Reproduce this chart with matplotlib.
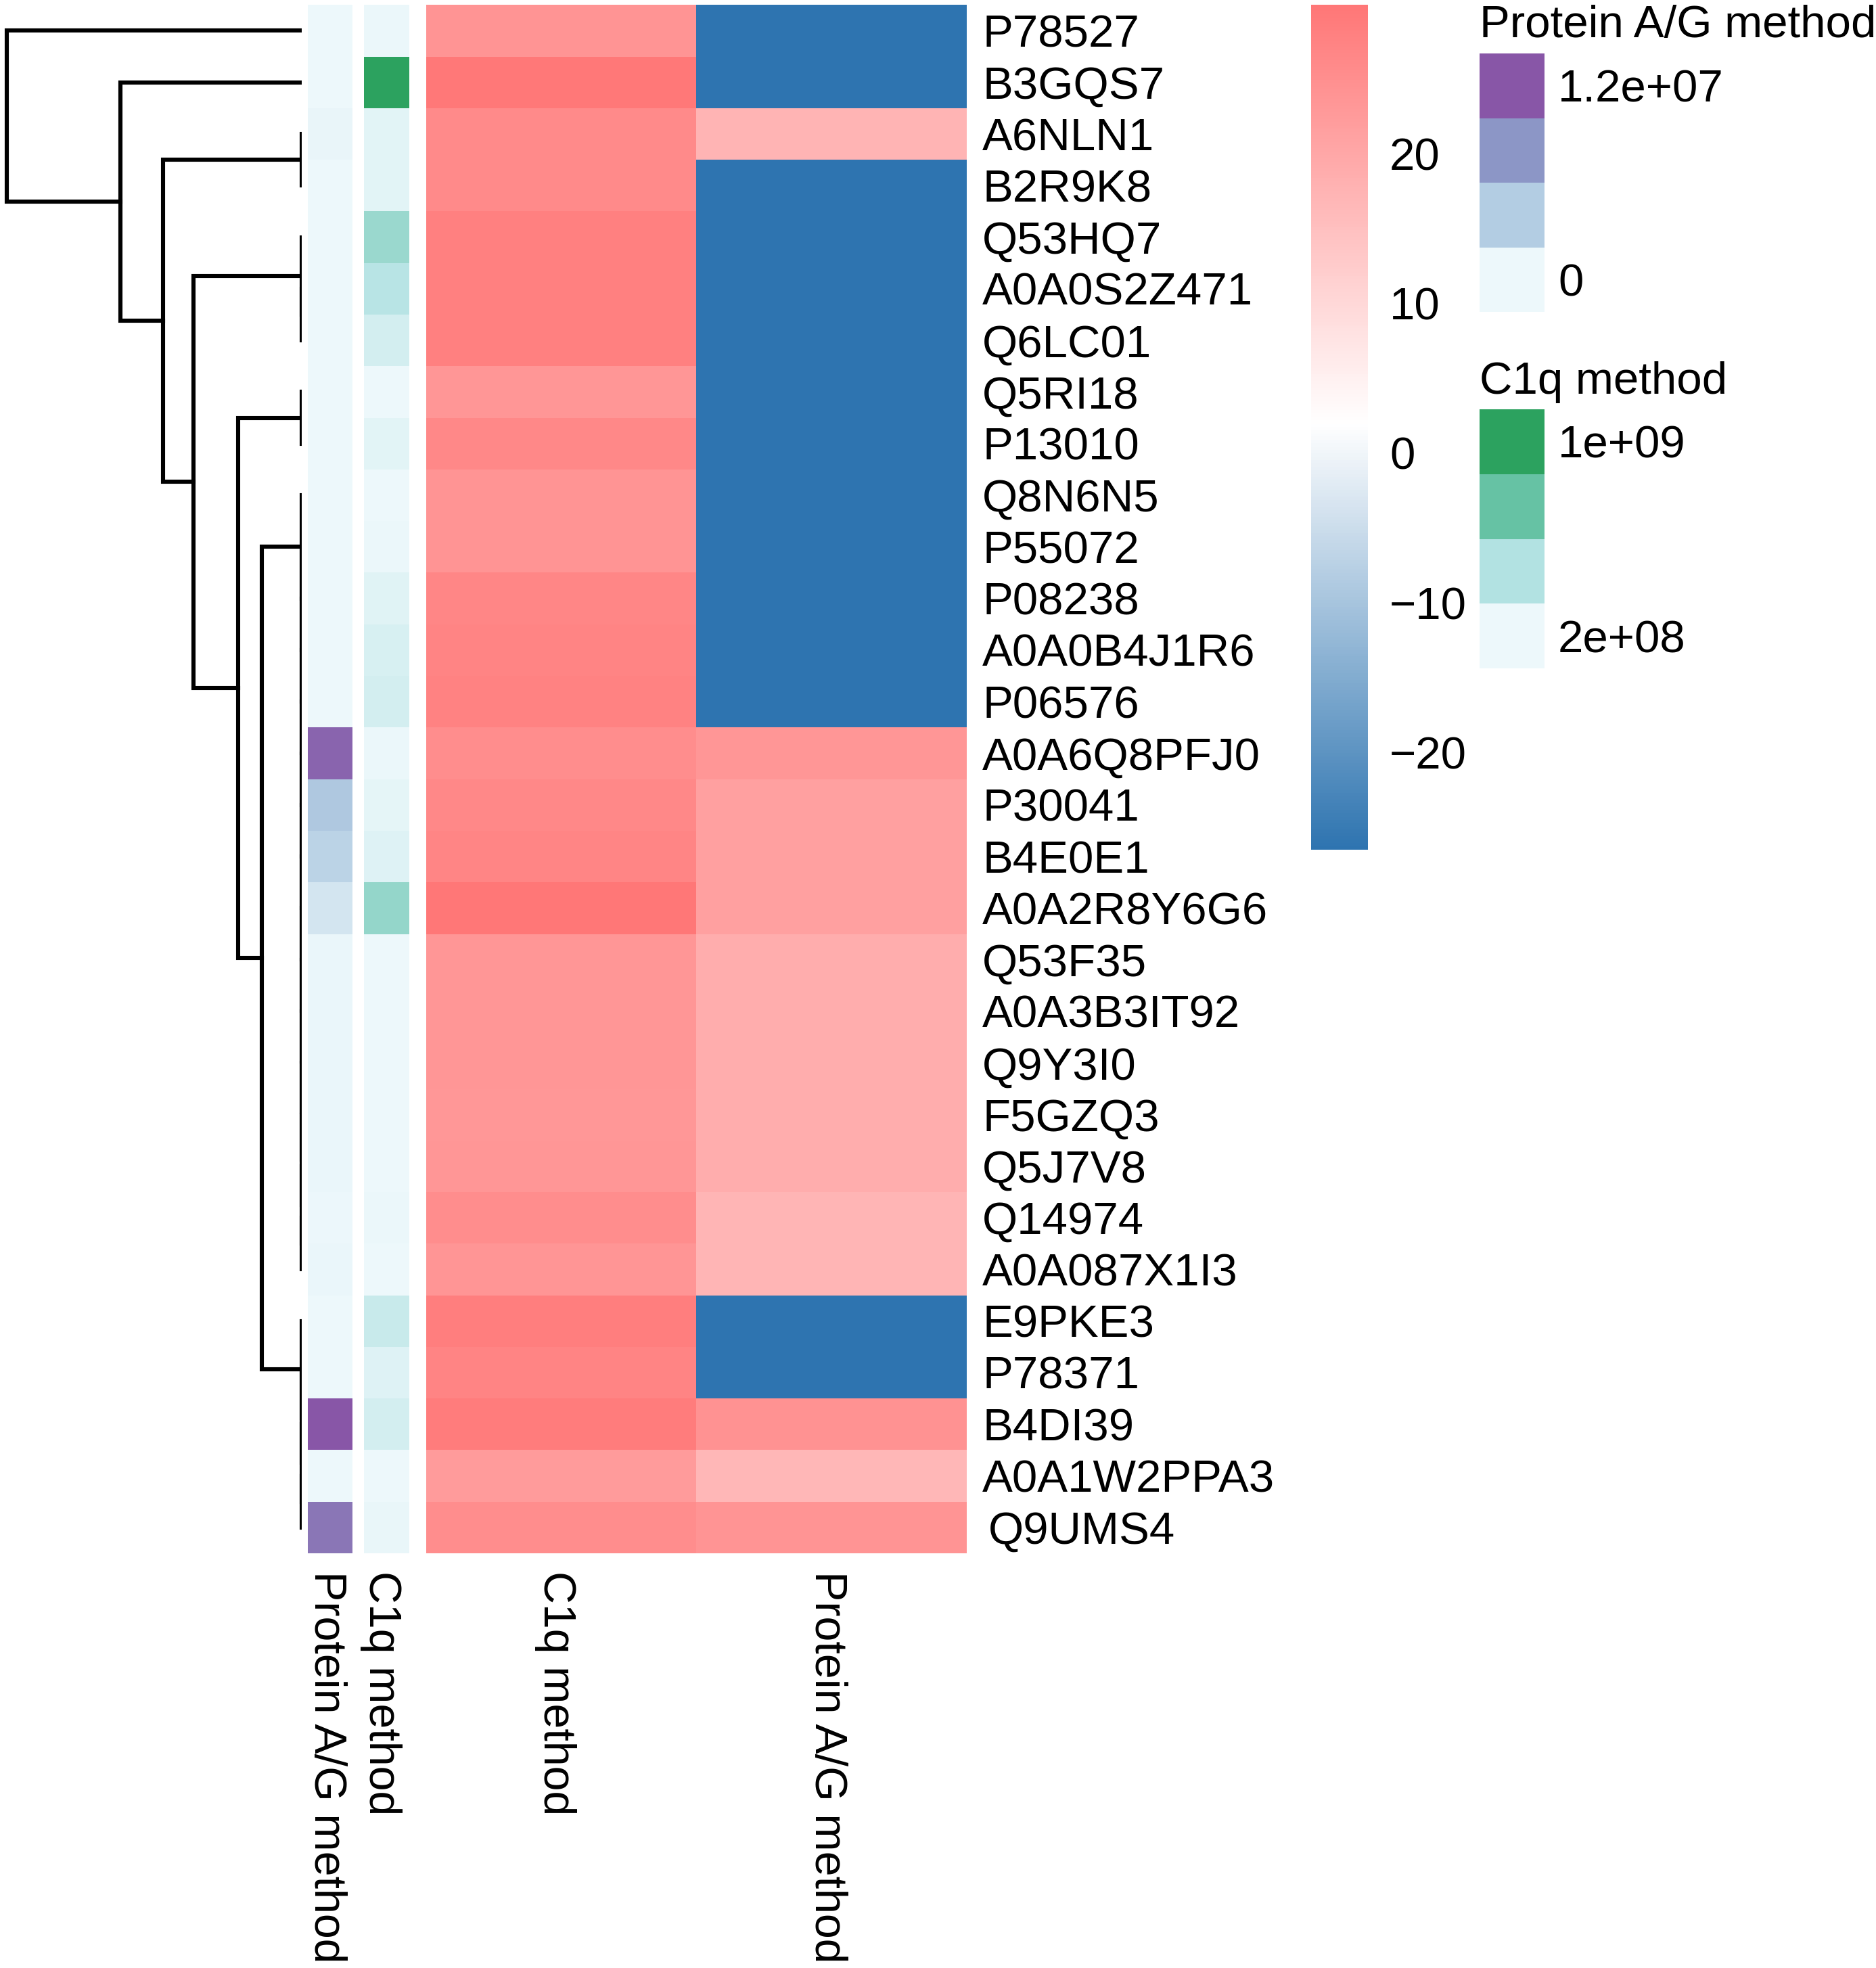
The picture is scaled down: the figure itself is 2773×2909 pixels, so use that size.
import numpy as np
import matplotlib
matplotlib.use('Agg')
import matplotlib.pyplot as plt
from matplotlib.colors import LinearSegmentedColormap, ListedColormap, Normalize, TwoSlopeNorm
from matplotlib.cm import ScalarMappable

plt.rcParams['font.family'] = ['Liberation Sans', 'DejaVu Sans']

W, H = 2773, 2909
FS = 48.4

proteins = ['P78527', 'B3GQS7', 'A6NLN1', 'B2R9K8', 'Q53HQ7', 'A0A0S2Z471', 'Q6LC01', 'Q5RI18',
            'P13010', 'Q8N6N5', 'P55072', 'P08238', 'A0A0B4J1R6', 'P06576', 'A0A6Q8PFJ0', 'P30041',
            'B4E0E1', 'A0A2R8Y6G6', 'Q53F35', 'A0A3B3IT92', 'Q9Y3I0', 'F5GZQ3', 'Q5J7V8', 'Q14974',
            'A0A087X1I3', 'E9PKE3', 'P78371', 'B4DI39', 'A0A1W2PPA3', 'Q9UMS4']

# log fold values per method (main heatmap)
c1q_method = [24, 29.7, 26, 26, 28.2, 28.2, 28.2, 23.5, 26.3, 24, 24, 26.8, 27.2, 27.7, 25.4, 26.3, 27,
              29.9, 23.5, 23.5, 23.5, 23.3, 23.5, 25.4, 23.8, 28.4, 27.2, 28.8, 22.5, 25.4]
pag_method = [-26.5, -26.5, 17.5, -26.5, -26.5, -26.5, -26.5, -26.5, -26.5, -26.5, -26.5, -26.5, -26.5,
              -26.5, 23.5, 21.5, 21.5, 21.5, 18.8, 18.8, 18.8, 18.8, 18.8, 17.3, 17.3, -26.5, -26.5, 24.5, 16.8, 24]

# raw intensities for the annotation columns
pag_anno = [1e4, 1e4, 3e5, 1e4, 1e4, 1e4, 1e4, 1e4, 1e4, 1e4, 1e4, 1e4, 1e4, 1e4, 1.11e7, 4.4e6,
            3.5e6, 1.8e6, 2e5, 2e5, 2e5, 2e5, 2e5, 5e4, 2e5, 1e4, 1e4, 1.2e7, 1e4, 1e7]
c1q_anno = [2.1e8, 1e9, 2.5e8, 2.5e8, 5.5e8, 4.4e8, 3.2e8, 2e8, 2.5e8, 2e8, 2.1e8, 2.6e8, 3e8, 3.2e8,
            2.1e8, 2.4e8, 2.7e8, 5.7e8, 2e8, 2e8, 2e8, 2e8, 2e8, 2.1e8, 2e8, 3.7e8, 2.7e8, 3.2e8, 2e8, 2.2e8]

heat_columns = ['C1q method', 'Protein A/G method']
pag_colors = ['#EDF8FB', '#B3CDE3', '#8C96C6', '#8856A7']
c1q_colors = ['#EDF8FB', '#B2E2E2', '#66C2A4', '#2CA25F']
heat_colors = ['#2E74B0', '#FFFFFF', '#FF7777']
heat_ticks = [-20, -10, 0, 10, 20]


def ladder(first, last, height):
    # tight clusters chain one leaf at a time
    if first == last:
        return first
    return (height, first, ladder(first + 1, last, height))


tree = (436, 0,
        (268, 1,
         (205, ladder(2, 3, 0),
          (160, (0, 4, ladder(5, 6, 0)),
           (94, ladder(7, 8, 0),
            (59, ladder(9, 24, 0), ladder(25, 29, 0)))))))


def px_axes(x0, y0, x1, y1):
    return fig.add_axes([x0 / W, 1 - y1 / H, (x1 - x0) / W, (y1 - y0) / H])


def draw_tree(ax, node):
    if not isinstance(node, tuple):
        return 0, node + 0.5
    h, a, b = node
    ha, ya = draw_tree(ax, a)
    hb, yb = draw_tree(ax, b)
    ax.plot([ha, h, h, hb], [ya, ya, yb, yb], color='black', lw=4.4,
            solid_capstyle='projecting', solid_joinstyle='miter')
    return h, (ya + yb) / 2


def draw_column(ax, values, cmap, norm):
    arr = np.array(values, dtype=float).reshape(-1, 1) if np.ndim(values) == 1 else np.array(values).T
    ax.pcolormesh(arr, cmap=cmap, norm=norm, edgecolors='none')
    ax.set_ylim(len(proteins), 0)
    ax.set_yticks([])
    ax.set_xticks([])
    for s in ax.spines.values():
        s.set_visible(False)


fig = plt.figure(figsize=(W / 100, H / 100), dpi=100)

TOP, BOTTOM = 7.3, 2296

# dendrogram
ax_tree = px_axes(0, TOP, 446, BOTTOM)
draw_tree(ax_tree, tree)
ax_tree.set_xlim(446, 0)
ax_tree.set_ylim(len(proteins), 0)
ax_tree.axis('off')

# annotation columns
pag_cmap = LinearSegmentedColormap.from_list('pag', pag_colors)
c1q_cmap = LinearSegmentedColormap.from_list('c1q', c1q_colors)
ax_a = px_axes(454.5, TOP, 521, BOTTOM)
draw_column(ax_a, pag_anno, pag_cmap, Normalize(0, 1.2e7))
ax_b = px_axes(538, TOP, 605, BOTTOM)
draw_column(ax_b, c1q_anno, c1q_cmap, Normalize(2e8, 1e9))

# main heatmap
heat_cmap = LinearSegmentedColormap.from_list('heat', heat_colors)
heat_norm = TwoSlopeNorm(vmin=-26.5, vcenter=2, vmax=30)
ax_h = px_axes(629.5, TOP, 1429, BOTTOM)
draw_column(ax_h, [c1q_method, pag_method], heat_cmap, heat_norm)

for i, name in enumerate(proteins):
    nudge = 9 if name == 'Q9UMS4' else 0
    ax_h.annotate(name, xy=(1, i + 0.5), xycoords=('axes fraction', 'data'),
                  xytext=((23 + nudge) * 0.72, 0), textcoords='offset points',
                  ha='left', va='center_baseline', fontsize=FS)

# column labels under each block, rotated and hung from the bottom edge
for ax, label, pos, shift in [(ax_a, 'Protein A/G method', 0.5, -6), (ax_b, 'C1q method', 0.5, -9),
                              (ax_h, heat_columns[0], 0.5, -8), (ax_h, heat_columns[1], 1.5, -7)]:
    ax.annotate(label, xy=(pos, 0), xycoords=('data', 'axes fraction'),
                xytext=(shift * 0.72, -18.7), textcoords='offset points',
                rotation=270, fontsize=47.8, ha='center', va='top', annotation_clip=False)

# colour bar
ax_cb = px_axes(1938, 6.6, 2022, 1256)
cb = fig.colorbar(ScalarMappable(norm=heat_norm, cmap=heat_cmap), cax=ax_cb, ticks=heat_ticks)
ax_cb.set_yscale('linear')
cb.set_ticks(heat_ticks)
cb.ax.tick_params(length=0, pad=23, labelsize=FS)
cb.outline.set_visible(False)


def discrete_legend(title, colors, labels, title_y, y0, y1):
    ax = px_axes(2187, y0, 2283, y1)
    ax.pcolormesh(np.arange(len(colors)).reshape(-1, 1), cmap=ListedColormap(colors), edgecolors='none')
    ax.axis('off')
    fig.text(2187 / W, 1 - title_y / H, title, fontsize=FS, va='center_baseline', ha='left')
    step = (y1 - y0) / len(colors)
    for pos, lab in labels:
        fig.text(2303 / W, 1 - (y1 - step * (pos + 0.5)) / H, lab, fontsize=FS, va='center_baseline', ha='left')


discrete_legend('Protein A/G method', pag_colors, [(3, '1.2e+07'), (0, '0')], 31, 79, 461)
discrete_legend('C1q method', c1q_colors, [(3, '1e+09'), (0, '2e+08')], 558, 605, 988)

fig.savefig('out.png', dpi=100, facecolor='white')
